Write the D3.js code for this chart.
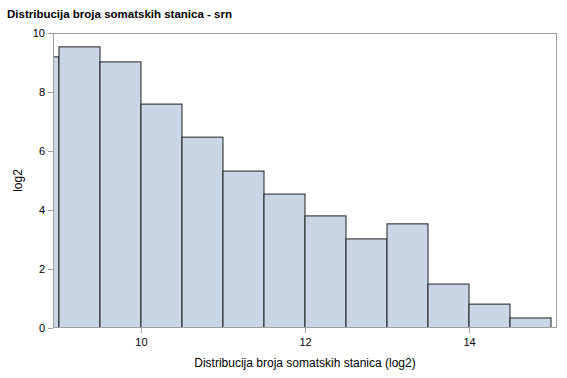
<!DOCTYPE html>
<html>
<head>
<meta charset="utf-8">
<script src="https://cdn.jsdelivr.net/npm/d3@7"></script>
<style>
  body { margin: 0; background: #fff; }
  text { font-family: "Liberation Sans", Arial, sans-serif; }
</style>
</head>
<body>
<svg width="567" height="378"></svg>
<script>
// histogram bins (log2 of somatic cell count), bin width 0.5
const binStarts = [8.5, 9, 9.5, 10, 10.5, 11, 11.5, 12, 12.5, 13, 13.5, 14, 14.5]
const binValues = [9.19, 9.53, 9.02, 7.59, 6.47, 5.32, 4.54, 3.80, 3.02, 3.53, 1.49, 0.81, 0.34]
const xTicks = [10, 12, 14]
const yTicks = [0, 2, 4, 6, 8, 10]
const binWidth = 0.5

const data = binStarts.map((s, i) => ({ x0: s, x1: s + binWidth, v: binValues[i] }))

const svg = d3.select("svg")
const width = 567
const height = 378

const margin = {
  top: 33,
  bottom: 50,
  left: 53,
  right: 10
}

const innerWidth = width - margin.left - margin.right
const innerHeight = height - margin.top - margin.bottom

svg.append("text")
  .attr("x", 7)
  .attr("y", 18)
  .attr("font-size", 11.5)
  .attr("font-weight", "bold")
  .text("Distribucija broja somatskih stanica - srn")

const g = svg.append("g")
  .attr("transform", `translate(${margin.left},${margin.top})`)

const xScale = d3.scaleLinear()
  .domain([8.927, 15.073])
  .range([0, innerWidth])

const yScale = d3.scaleLinear()
  .domain([0, 10])
  .range([innerHeight, 0])

g.append("clipPath").attr("id", "clip")
  .append("rect")
  .attr("width", innerWidth)
  .attr("height", innerHeight)

g.append("g")
  .attr("clip-path", "url(#clip)")
  .selectAll("rect")
  .data(data)
  .enter().append("rect")
  .attr("x", d => xScale(d.x0))
  .attr("y", d => yScale(d.v))
  .attr("width", d => xScale(d.x1) - xScale(d.x0))
  .attr("height", d => yScale(0) - yScale(d.v))
  .attr("fill", "#cad5e5")
  .attr("stroke", "#1f1f1f")
  .attr("stroke-width", 1)

// frame
g.append("rect")
  .attr("x", 0.5)
  .attr("y", 0.5)
  .attr("width", innerWidth - 1)
  .attr("height", innerHeight - 1)
  .attr("fill", "none")
  .attr("stroke", "#a0a0a0")

const xAxis = d3.axisBottom(xScale)
  .tickValues(xTicks)
  .tickSize(5)
  .tickFormat(d3.format("d"))

const yAxis = d3.axisLeft(yScale)
  .tickValues(yTicks)
  .tickSize(5)
  .tickFormat(d3.format("d"))

const xAxisG = g.append("g")
  .attr("transform", `translate(0,${innerHeight})`)
  .call(xAxis)

const yAxisG = g.append("g").call(yAxis)

xAxisG.select(".domain").remove()
yAxisG.select(".domain").remove()

xAxisG.selectAll("line").attr("stroke", "#a0a0a0")
yAxisG.selectAll("line").attr("stroke", "#a0a0a0")
xAxisG.selectAll("text")
  .attr("font-size", 11)
  .attr("fill", "#000")
  .attr("dy", "0.95em")
yAxisG.selectAll("text")
  .attr("font-size", 11)
  .attr("fill", "#000")
  .attr("x", -8)

xAxisG.append("text")
  .attr("x", innerWidth / 2)
  .attr("y", 39)
  .attr("font-size", 12)
  .attr("fill", "black")
  .attr("text-anchor", "middle")
  .text("Distribucija broja somatskih stanica (log2)")

yAxisG.append("text")
  .attr("x", -innerHeight / 2)
  .attr("y", -31)
  .attr("transform", "rotate(-90)")
  .attr("font-size", 12)
  .attr("fill", "black")
  .attr("text-anchor", "middle")
  .text("log2")
</script>
</body>
</html>
